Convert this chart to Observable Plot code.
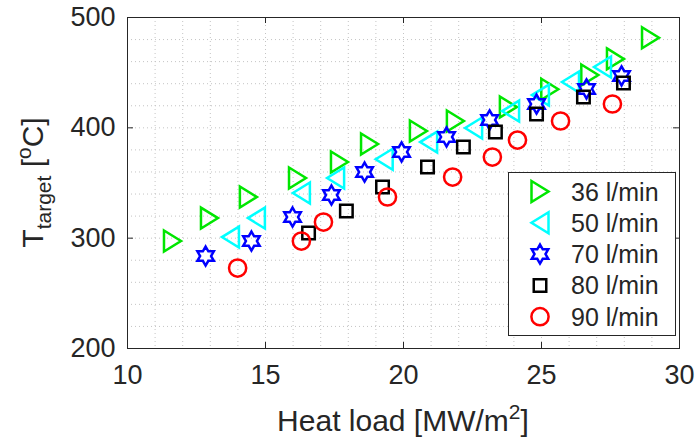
<!DOCTYPE html>
<html><head><meta charset="utf-8">
<script src="https://cdn.jsdelivr.net/npm/d3@7"></script>
<script src="https://cdn.jsdelivr.net/npm/@observablehq/plot@0.6"></script>
<style>
body{margin:0;background:#fff}
#chart{position:relative;width:696px;height:441px}
</style>
</head><body><div id="chart"></div>
<script>
// ---- data ----
const seriesNames = ["36 l/min", "50 l/min", "70 l/min", "80 l/min", "90 l/min"];
const heat36 = [11.63, 12.97, 14.38, 16.16, 17.68, 18.77, 20.54, 21.88, 23.80, 25.30, 26.75, 27.68, 28.95];
const temp36 = [297.4, 318.2, 337.3, 354.5, 369.0, 385.3, 397.1, 406.2, 418.9, 435.0, 447.9, 462.5, 481.6];
const heat50 = [13.73, 14.67, 16.30, 17.54, 19.30, 20.91, 22.54, 23.88, 24.96, 26.05, 27.21];
const temp50 = [301.0, 318.2, 340.9, 354.5, 371.5, 387.1, 399.8, 415.2, 429.7, 441.5, 455.1];
const heat70 = [12.83, 14.49, 15.98, 17.39, 18.59, 19.93, 21.56, 23.12, 24.82, 26.63, 27.90];
const temp70 = [283.8, 297.4, 319.1, 339.1, 359.9, 378.1, 391.7, 407.1, 421.6, 435.2, 447.0];
const heat80 = [16.56, 17.93, 19.24, 20.87, 22.17, 23.33, 24.82, 26.52, 27.97];
const temp80 = [304.6, 324.6, 346.3, 364.5, 382.6, 396.2, 412.5, 427.9, 440.6];
const heat90 = [13.99, 16.30, 17.10, 19.42, 21.78, 23.22, 24.13, 25.69, 27.57];
const temp90 = [272.9, 297.4, 314.6, 337.3, 355.4, 373.5, 388.9, 406.2, 421.6];
const xTicks = [10, 15, 20, 25, 30];
const yTicks = [200, 300, 400, 500];
const xMinor = d3.range(10, 31, 1);
const yMinor = d3.range(200, 501, 20);

// ---- styling ----
const colors = ["#00e600", "#00ffff", "#0000ff", "#000000", "#ff0000"];
const FONT = "'Liberation Sans', Arial, Helvetica, sans-serif";
const W = 696, H = 441, mL = 127, mR = 17, mT = 17, mB = 93;
const pw = W - mL - mR, ph = H - mT - mB;

// custom marker shapes (pixel sized)
const triRight = {draw(c){ const h=17, s=21; c.moveTo(-h/2,-s/2); c.lineTo(h/2,0); c.lineTo(-h/2,s/2); c.closePath(); }};
const triLeft  = {draw(c){ const h=17, s=21; c.moveTo(h/2,-s/2); c.lineTo(-h/2,0); c.lineTo(h/2,s/2); c.closePath(); }};
const hexagram = {draw(c){ const R=9.5, r=R/Math.sqrt(3);
  for(let i=0;i<12;i++){ const a=-Math.PI/2+i*Math.PI/6; const rr=i%2?r:R; const x=rr*Math.cos(a), y=rr*Math.sin(a); if(i) c.lineTo(x,y); else c.moveTo(x,y);} c.closePath(); }};
const square = {draw(c){ const s=12.5; c.rect(-s/2,-s/2,s,s); }};
const circle = {draw(c){ const r=8.6; c.moveTo(r,0); c.arc(0,0,r,0,2*Math.PI); }};
const symbols = [triRight, triLeft, hexagram, square, circle];

const heats = [heat36, heat50, heat70, heat80, heat90];
const temps = [temp36, temp50, temp70, temp80, temp90];
const tables = heats.map((hx, i) => hx.map((x, j) => ({x, y: temps[i][j], s: seriesNames[i]})));

const gridStyle = {stroke: "#c4c4c4", strokeDasharray: "1,3", strokeWidth: 1};

const plot = Plot.plot({
  width: W, height: H,
  marginLeft: mL, marginRight: mR, marginTop: mT, marginBottom: mB,
  style: {fontFamily: FONT, color: "#262626", background: "#fff"},
  x: {domain: [10, 30]},
  y: {domain: [200, 500]},
  marks: [
    Plot.ruleX(xMinor, {x: d => d, ...gridStyle}),
    Plot.ruleY(yMinor, {y: d => d, ...gridStyle}),
    // inward ticks on all four sides
    Plot.ruleX(xTicks, {x: d => d, insetTop: ph - 6, stroke: "#262626"}),
    Plot.ruleX(xTicks, {x: d => d, insetBottom: ph - 6, stroke: "#262626"}),
    Plot.ruleY(yTicks, {y: d => d, insetRight: pw - 6, stroke: "#262626"}),
    Plot.ruleY(yTicks, {y: d => d, insetLeft: pw - 6, stroke: "#262626"}),
    Plot.frame({stroke: "#262626", strokeWidth: 1}),
    Plot.axisX(xTicks, {tickSize: 0, tickPadding: 16, fontSize: 27, label: null, tickFormat: d => String(d)}),
    Plot.axisY(yTicks, {tickSize: 0, tickPadding: 12, fontSize: 27, label: null, tickFormat: d => String(d)}),
    ...tables.map((t, i) => Plot.dot(t, {x: "x", y: "y", symbol: symbols[i], stroke: colors[i], fill: "none", strokeWidth: 2.5, strokeLinejoin: "miter", r: 5}))
  ]
});
document.getElementById("chart").appendChild(plot);

const svg = d3.select(plot);
// x label
const xl = svg.append("text").attr("x", mL + pw/2).attr("y", 431).attr("text-anchor", "middle")
  .style("font-family", FONT).style("font-size", "30px").attr("fill", "#262626");
xl.append("tspan").text("Heat load [MW/m");
xl.append("tspan").attr("dy", -12).style("font-size", "21px").text("2");
xl.append("tspan").attr("dy", 12).text("]");
// y label
const yl = svg.append("text").attr("transform", `translate(43,${mT + ph/2}) rotate(-90)`).attr("text-anchor", "middle")
  .style("font-family", FONT).style("font-size", "30px").attr("fill", "#262626");
yl.append("tspan").text("T");
yl.append("tspan").attr("dy", 8).style("font-size", "21px").text("target");
yl.append("tspan").attr("dy", -8).text(" [");
yl.append("tspan").attr("dy", -12).style("font-size", "21px").text("o");
yl.append("tspan").attr("dy", 12).text("C]");

// legend
const lg = svg.append("g");
lg.append("rect").attr("x", 508.5).attr("y", 172.5).attr("width", 167).attr("height", 163)
  .attr("fill", "#fff").attr("stroke", "#262626").attr("stroke-width", 1);
seriesNames.forEach((name, i) => {
  const cy = 191.5 + i * 31.3;
  const p = d3.path(); symbols[i].draw(p);
  lg.append("path").attr("d", p.toString()).attr("transform", `translate(540,${cy})`)
    .attr("fill", "none").attr("stroke", colors[i]).attr("stroke-width", 2.5).attr("stroke-linejoin", "miter");
  lg.append("text").attr("x", 571).attr("y", cy).attr("dy", "0.36em").attr("text-anchor", "start")
    .style("font-family", FONT).style("font-size", "25px").attr("fill", "#262626").text(name);
});
</script>
</body></html>
